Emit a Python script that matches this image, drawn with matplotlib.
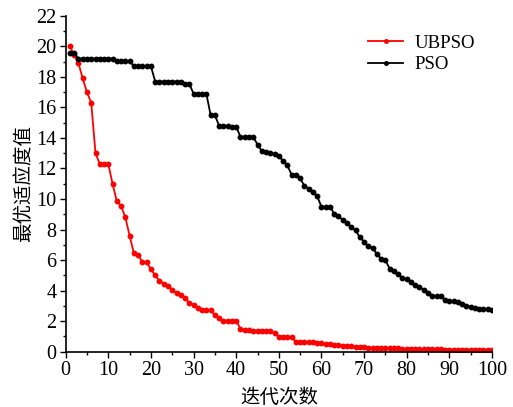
import matplotlib
matplotlib.use("Agg")
import matplotlib.pyplot as plt
from matplotlib.ticker import MultipleLocator

iterations = list(range(1, 101))

ubpso = [20.0, 19.45, 18.9, 17.9, 17.0, 16.3, 13.0, 12.3, 12.3, 12.3,
         11.0, 9.85, 9.55, 8.8, 7.6, 6.45, 6.3, 5.88, 5.85, 5.4,
         5.0, 4.65, 4.45, 4.32, 4.05, 3.82, 3.7, 3.5, 3.2, 3.05,
         2.88, 2.7, 2.7, 2.7, 2.42, 2.2, 2.03, 2.03, 2.03, 2.03,
         1.5, 1.42, 1.4, 1.38, 1.37, 1.36, 1.35, 1.33, 1.2, 0.98,
         0.94, 0.94, 0.94, 0.65, 0.63, 0.62, 0.61, 0.6, 0.59, 0.55,
         0.52, 0.5, 0.46, 0.43, 0.4, 0.37, 0.34, 0.32, 0.3, 0.28,
         0.27, 0.26, 0.25, 0.24, 0.23, 0.22, 0.21, 0.21, 0.2, 0.19,
         0.18, 0.18, 0.17, 0.17, 0.16, 0.16, 0.15, 0.15, 0.14, 0.14,
         0.13, 0.13, 0.12, 0.12, 0.12, 0.11, 0.11, 0.11, 0.10, 0.10]

pso = [19.56, 19.56, 19.2, 19.2, 19.2, 19.2, 19.2, 19.2, 19.2, 19.2,
       19.2, 19.03, 19.03, 19.03, 19.03, 18.7, 18.7, 18.7, 18.7, 18.7,
       17.7, 17.7, 17.7, 17.7, 17.7, 17.7, 17.7, 17.55, 17.55, 16.9,
       16.9, 16.9, 16.9, 15.5, 15.5, 14.8, 14.78, 14.76, 14.75, 14.73,
       14.08, 14.08, 14.08, 14.08, 13.56, 13.15, 13.1, 13.0, 12.95, 12.8,
       12.5, 12.2, 11.6, 11.55, 11.35, 10.87, 10.68, 10.44, 10.17, 9.5,
       9.5, 9.5, 9.04, 8.86, 8.64, 8.45, 8.16, 7.94, 7.5, 7.2,
       6.9, 6.79, 6.4, 6.09, 5.98, 5.44, 5.26, 5.1, 4.82, 4.76,
       4.54, 4.37, 4.24, 4.06, 3.84, 3.67, 3.63, 3.62, 3.41, 3.34,
       3.32, 3.28, 3.14, 3.01, 2.93, 2.84, 2.8, 2.78, 2.77, 2.75]

series_names = ["UBPSO", "PSO"]
xlabel = "迭代次数"
ylabel = "最优适应度值"

plt.rcParams['font.family'] = ['Liberation Serif', 'DejaVu Serif']
plt.rcParams['mathtext.fontset'] = 'stix'

fig = plt.figure(figsize=(5.13, 4.07), dpi=100)
ax = fig.add_axes([0.128, 0.136, 0.831, 0.825])

ax.plot(iterations, ubpso, color='#ff0000', lw=1.3, marker='o', ms=3.2,
        label=series_names[0])
ax.plot(iterations, pso, color='black', lw=1.3, marker='o', ms=3.2,
        label=series_names[1])

ax.set_xlim(0, 100)
ax.set_ylim(0, 22)
ax.xaxis.set_major_locator(MultipleLocator(10))
ax.xaxis.set_minor_locator(MultipleLocator(5))
ax.yaxis.set_major_locator(MultipleLocator(2))
ax.yaxis.set_minor_locator(MultipleLocator(1))
ax.tick_params(axis='both', which='major', direction='out', length=4.5,
               width=1, labelsize=14.5, pad=2)
ax.tick_params(axis='both', which='minor', direction='out', length=2.5, width=1)
ax.spines['top'].set_visible(False)
ax.spines['right'].set_visible(False)
ax.spines['left'].set_linewidth(1.2)
ax.spines['bottom'].set_linewidth(1.2)

cjk = ['Noto Sans CJK SC', 'DejaVu Sans']
ax.set_xlabel(xlabel, family=cjk, fontsize=14, labelpad=5)
ax.set_ylabel(ylabel, family=cjk, fontsize=14, labelpad=2)

leg = ax.legend(loc='upper right', bbox_to_anchor=(1.0, 0.995), frameon=False,
                fontsize=13.5, handlelength=1.9, handletextpad=0.6,
                labelspacing=0.25, markerscale=0.8)

fig.savefig('out.png', dpi=100)
